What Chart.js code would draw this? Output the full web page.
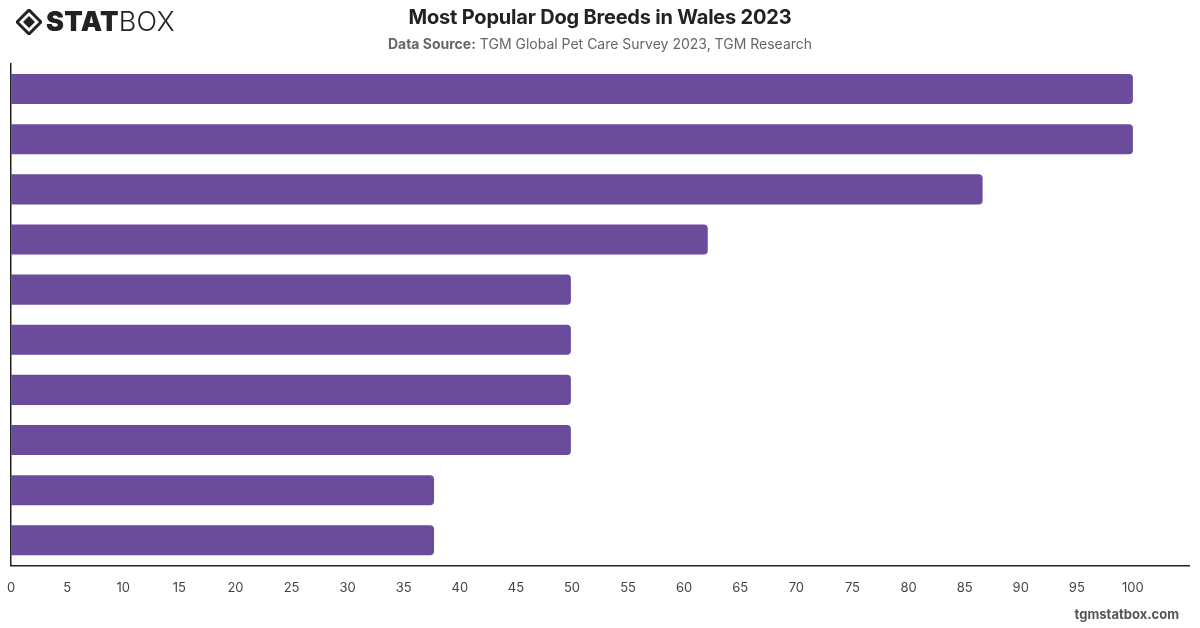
<!DOCTYPE html>
<html>
<head>
<meta charset="utf-8">
<script src="https://cdn.jsdelivr.net/npm/chart.js@4/dist/chart.umd.min.js"></script>
<style>
  html, body { margin: 0; padding: 0; background: #fff; }
  body { width: 1200px; height: 628px; position: relative; overflow: hidden; font-family: Inter, "Noto Sans", sans-serif; }
  #wrap { position: absolute; left: 0; top: 0; width: 1200px; height: 628px; }
  .logo { position: absolute; left: 16px; top: 5px; font-size: 27px; color: #222; letter-spacing: 0.3px; display: flex; align-items: center; }
  .logo b { font-weight: 900; }
  .logo span { font-weight: 300; }
  .title { position: absolute; left: 0; width: 1200px; top: 5px; text-align: center; font-size: 20px; font-weight: 700; color: #222; letter-spacing: -0.2px; }
  .sub { position: absolute; left: 0; width: 1200px; top: 35px; text-align: center; font-size: 14px; color: #666; }
  .sub b { font-weight: 700; }
  .foot { position: absolute; right: 21px; top: 606px; font-size: 13px; font-weight: 700; color: #555; }
</style>
</head>
<body>
<div id="wrap"><canvas id="barChart" width="1200" height="628"></canvas></div>
<div class="logo">
  <svg width="26" height="26" viewBox="0 0 26 26" style="margin-right:4px">
    <path d="M13 1 L25 13 L13 25 L1 13 Z" fill="none" stroke="#222" stroke-width="3"/>
    <path d="M13 7 L19 13 L13 19 L7 13 Z" fill="#222"/>
  </svg>
  <b>STAT</b><span>BOX</span>
</div>
<div class="title">Most Popular Dog Breeds in Wales 2023</div>
<div class="sub"><b>Data Source:</b> TGM Global Pet Care Survey 2023, TGM Research</div>
<div class="foot">tgmstatbox.com</div>
<script>
// 카테고리 (차트에 이름 표시 없음)
const ranks = ["1", "2", "3", "4", "5", "6", "7", "8", "9", "10"];
// 값
const shares = [100, 100, 86.6, 62.1, 49.9, 49.9, 49.9, 49.9, 37.7, 37.7];
// x축 눈금
const xMax = 105;
const xStep = 5;

const ctx = document.getElementById("barChart").getContext("2d");

new Chart(ctx, {
  type: "bar",
  data: {
    labels: ranks,
    datasets: [
      {
        data: shares,
        backgroundColor: "#6a4b9c",
        borderRadius: { topRight: 4, bottomRight: 4 },
        borderSkipped: false,
        barPercentage: 0.6,
        categoryPercentage: 1,
      },
    ],
  },
  options: {
    indexAxis: "y",
    responsive: false,
    animation: false,
    layout: { padding: { left: 2, top: 64, right: 11, bottom: 25 } },
    plugins: {
      legend: { display: false },
      tooltip: { enabled: false },
    },
    scales: {
      x: {
        min: 0,
        max: xMax,
        ticks: {
          stepSize: xStep,
          color: "#444",
          font: { family: "Inter", size: 13 },
          padding: 7,
          callback: v => (v > 100 ? "" : v),
        },
        grid: { display: false },
        border: { display: true, color: "#222", width: 1.5 },
      },
      y: {
        ticks: { display: false },
        grid: { display: false },
        border: { display: true, color: "#222", width: 1.5 },
      },
    },
  },
});
</script>
</body>
</html>
